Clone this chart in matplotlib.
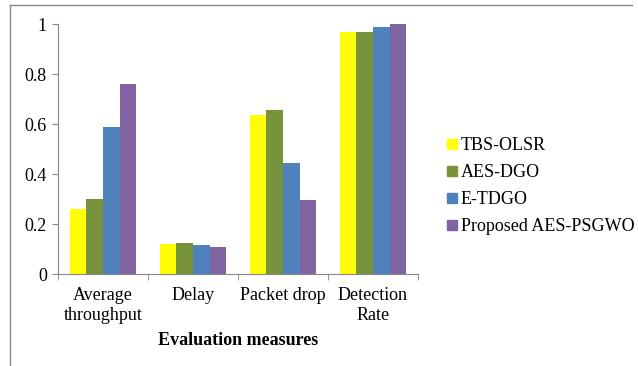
"""Grouped bar chart of evaluation measures"""

import numpy as np
import matplotlib.pyplot as plt
from matplotlib.lines import Line2D

categories = ['Average\nthroughput', 'Delay', 'Packet drop', 'Detection\nRate']
series_names = ['TBS-OLSR', 'AES-DGO', 'E-TDGO', 'Proposed AES-PSGWO']
tbs_olsr = [0.26, 0.121, 0.637, 0.970]
aes_dgo = [0.30, 0.126, 0.657, 0.970]
e_tdgo = [0.588, 0.117, 0.444, 0.988]
aes_psgwo = [0.762, 0.110, 0.296, 1.0]
y_ticks = [0, 0.2, 0.4, 0.6, 0.8, 1]
y_tick_labels = ['0', '0.2', '0.4', '0.6', '0.8', '1']

colors = ['#FFFF00', '#77933C', '#4F81BD', '#8064A2']
axis_gray = '#868686'
fs = 13

plt.rcParams['font.family'] = ['Liberation Serif', 'DejaVu Serif']

fig = plt.figure(figsize=(6.38, 3.66), dpi=100)
ax = fig.add_axes([58 / 638, 1 - 274.3 / 366, 360 / 638, 250 / 366])

x = np.arange(len(categories))
bw = 0.185
all_series = [tbs_olsr, aes_dgo, e_tdgo, aes_psgwo]
for i, (vals, name) in enumerate(zip(all_series, series_names)):
    ax.bar(x + (i - 1.5) * bw, vals, width=bw, color=colors[i],
           label=name, linewidth=0)

ax.set_xlim(-0.5, len(categories) - 0.5)
ax.set_ylim(0, 1)
ax.set_yticks(y_ticks)
ax.set_yticklabels(y_tick_labels, fontsize=fs)

# category labels between boundary ticks
ax.set_xticks(x)
ax.set_xticklabels(categories, fontsize=fs, linespacing=1.25)
ax.tick_params(axis='x', length=0, pad=9)
ax.set_xticks(np.arange(len(categories) + 1) - 0.5, minor=True)
ax.tick_params(axis='x', which='minor', length=4, color=axis_gray)
ax.tick_params(axis='y', length=4, color=axis_gray, pad=4)

for side in ['top', 'right']:
    ax.spines[side].set_visible(False)
for side in ['left', 'bottom']:
    ax.spines[side].set_color(axis_gray)

ax.set_xlabel('Evaluation measures', fontsize=fs, fontweight='bold', labelpad=6)

handles = [Line2D([0], [0], marker='s', color='none', markerfacecolor=c,
                  markeredgecolor=c, markersize=7) for c in colors]
fig.legend(handles, series_names, loc='center left',
           bbox_to_anchor=(438 / 638, 1 - 186 / 366), frameon=False,
           fontsize=fs, handlelength=0.6, handletextpad=0.15,
           labelspacing=0.55, borderpad=0)

# outer chart frame
fig.add_artist(Line2D([10 / 638, 632 / 638], [1 - 5 / 366, 1 - 5 / 366],
                      color=axis_gray, linewidth=1))
fig.add_artist(Line2D([10 / 638, 10 / 638], [1 - 5 / 366, 0],
                      color=axis_gray, linewidth=1))

plt.savefig('out.png', dpi=100)
plt.close()
